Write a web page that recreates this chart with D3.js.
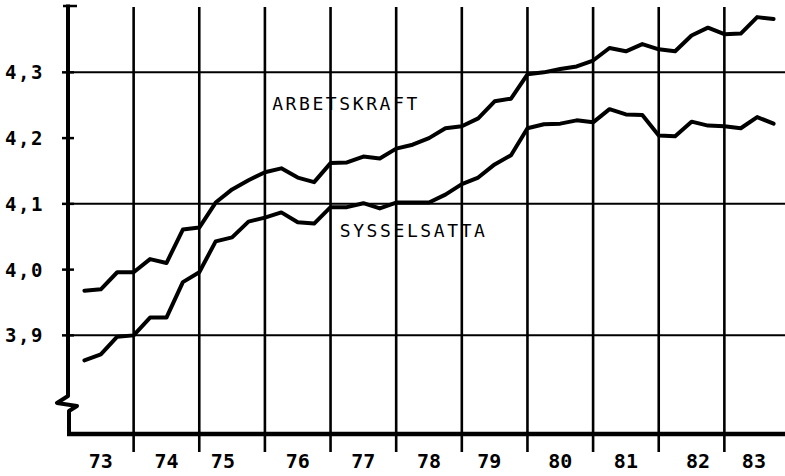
<!DOCTYPE html>
<html>
<head>
<meta charset="utf-8">
<script src="https://cdn.jsdelivr.net/npm/d3@7/dist/d3.min.js"></script>
<style>
  html, body { margin: 0; padding: 0; background: #fff; }
  svg { display: block; }
  text { font-family: "DejaVu Sans Mono", "Liberation Mono", monospace; fill: #000; }
</style>
</head>
<body>
<svg id="chart" width="785" height="476"></svg>
<script>
// ---- data (quarterly, millions of persons) ----
const startYear = 73;        // first year on axis
const endYear = 84;          // axis end
const quarterStart = 73.25;  // first observation (end of 1st quarter 1973)

const arbetskraft = [
  3.968, 3.970, 3.996, 3.996, 4.016, 4.010, 4.061, 4.064,
  4.102, 4.122, 4.136, 4.148, 4.154, 4.140, 4.133, 4.162,
  4.163, 4.172, 4.169, 4.184, 4.190, 4.200, 4.215, 4.218,
  4.230, 4.256, 4.260, 4.297, 4.300, 4.305, 4.309, 4.318,
  4.337, 4.332, 4.343, 4.335, 4.332, 4.356, 4.368, 4.358,
  4.359, 4.384, 4.381
];
const sysselsatta = [
  3.862, 3.871, 3.898, 3.900, 3.927, 3.927, 3.981, 3.996,
  4.043, 4.049, 4.073, 4.079, 4.087, 4.072, 4.070, 4.095,
  4.095, 4.101, 4.093, 4.102, 4.102, 4.102, 4.114, 4.130,
  4.140, 4.160, 4.174, 4.215, 4.221, 4.222, 4.227, 4.224,
  4.244, 4.236, 4.235, 4.204, 4.203, 4.225, 4.219, 4.218,
  4.215, 4.232, 4.222
];
const yearLabels = ["73","74","75","76","77","78","79","80","81","82","83"];
const yearLabelAt = [73.5, 74.5, 75.36, 76.5, 77.5, 78.5, 79.42, 80.5, 81.5, 82.6, 83.45];
const yTickValues = [3.9, 4.0, 4.1, 4.2, 4.3];
const yGridValues = [3.9, 4.1, 4.3];
const yTickLabels = ["3,9", "4,0", "4,1", "4,2", "4,3"];
const seriesLabels = [
  { text: "ARBETSKRAFT", t: 76.11, v: 4.242 },
  { text: "SYSSELSATTA", t: 77.14, v: 4.0496 }
];

// ---- scales ----
const x = d3.scaleLinear().domain([startYear, endYear]).range([68, 790]);
const y = d3.scaleLinear().domain([3.75, 4.40]).range([434, 6.6]);

const svg = d3.select("#chart");

// vertical gridlines at year boundaries
const years = d3.range(startYear + 1, endYear);
svg.append("g").selectAll("line").data(years).join("line")
  .attr("x1", d => x(d)).attr("x2", d => x(d))
  .attr("y1", 7).attr("y2", 452)
  .attr("stroke", "#000").attr("stroke-width", 2.6);

// horizontal gridlines
svg.append("g").selectAll("line").data(yGridValues).join("line")
  .attr("x1", x(startYear)).attr("x2", 785)
  .attr("y1", d => y(d)).attr("y2", d => y(d))
  .attr("stroke", "#000").attr("stroke-width", 2);

// y-axis ticks
svg.append("g").selectAll("line").data(yTickValues).join("line")
  .attr("x1", 62).attr("x2", 74)
  .attr("y1", d => y(d)).attr("y2", d => y(d))
  .attr("stroke", "#000").attr("stroke-width", 2.5);

// y-axis with break
const ax = x(startYear);
svg.append("path")
  .attr("d", `M${ax},${y(4.4) - 2} L${ax},396 L${ax - 11},403 L${ax + 9},406 L${ax + 1},411 L${ax + 1},436`)
  .attr("fill", "none").attr("stroke", "#000").attr("stroke-width", 4)
  .attr("stroke-linejoin", "round");
svg.append("line")
  .attr("x1", ax - 5).attr("x2", ax + 9)
  .attr("y1", 6).attr("y2", 6)
  .attr("stroke", "#000").attr("stroke-width", 2.5);

// x-axis
svg.append("line")
  .attr("x1", ax - 1).attr("x2", 785)
  .attr("y1", y(3.75)).attr("y2", y(3.75))
  .attr("stroke", "#000").attr("stroke-width", 4.5);

// y tick labels
svg.append("g").selectAll("text").data(yTickValues).join("text")
  .attr("x", 5).attr("y", d => y(d) + 7)
  .attr("font-size", 19).attr("font-weight", "bold")
  .attr("letter-spacing", 1.5)
  .text((d, i) => yTickLabels[i]);

// x tick labels
svg.append("g").selectAll("text").data(yearLabels).join("text")
  .attr("x", (d, i) => x(yearLabelAt[i])).attr("y", 468)
  .attr("text-anchor", "middle")
  .attr("font-size", 20).attr("font-weight", "bold")
  .text(d => d);

// lines
const line = d3.line()
  .x((d, i) => x(quarterStart + i * 0.25))
  .y(d => y(d));

[arbetskraft, sysselsatta].forEach(series => {
  svg.append("path")
    .datum(series)
    .attr("d", line)
    .attr("fill", "none")
    .attr("stroke", "#000")
    .attr("stroke-width", 4)
    .attr("stroke-linejoin", "round")
    .attr("stroke-linecap", "round");
});

// series labels
svg.append("g").selectAll("text").data(seriesLabels).join("text")
  .attr("x", d => x(d.t)).attr("y", d => y(d.v))
  .attr("font-size", 18)
  .attr("letter-spacing", 2.6)
  .text(d => d.text);
</script>
</body>
</html>
